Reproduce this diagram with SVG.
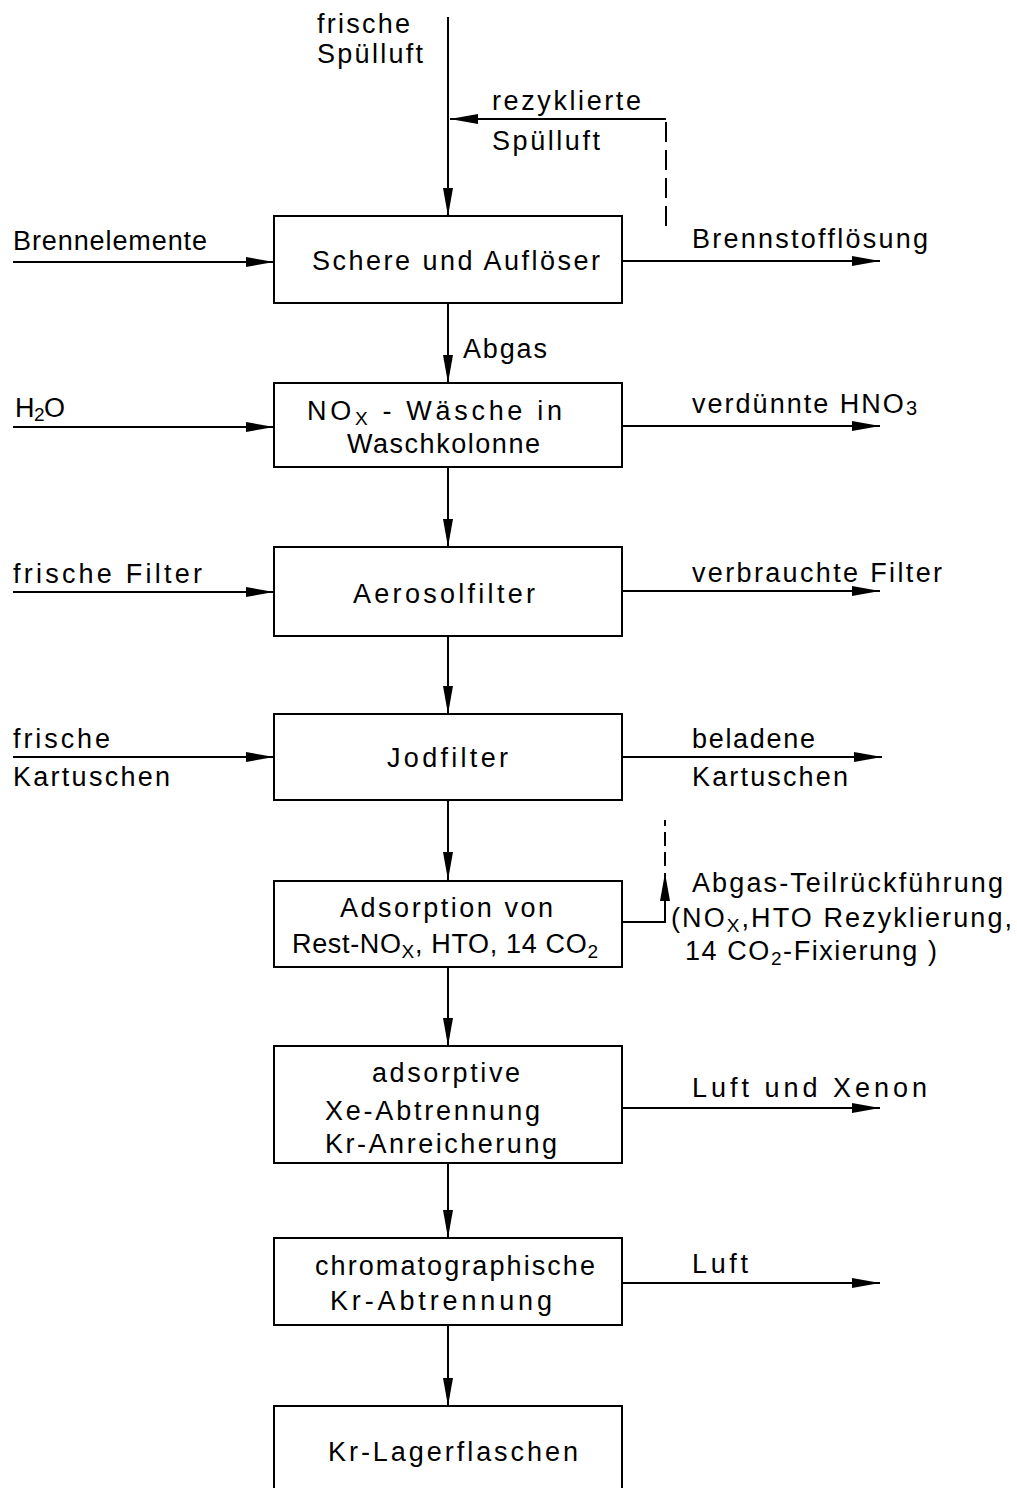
<svg xmlns="http://www.w3.org/2000/svg" width="1017" height="1488" viewBox="0 0 1017 1488">
<style>
  text { font-family: "Liberation Sans", Arial, sans-serif; font-size: 27px; fill: #000; }
  .box { fill: #fff; stroke: #000; stroke-width: 2; }
  .ln { fill: none; stroke: #000; stroke-width: 2; }
  .ar { marker-end: url(#arrow); }
  .dash { stroke-dasharray: 20 8; }
  .dash2 { stroke-dasharray: 14 6; }
</style>
<defs>
  <marker id="arrow" markerUnits="userSpaceOnUse" markerWidth="30" markerHeight="12" refX="28" refY="6" orient="auto">
    <path d="M0,1 L28,6 L0,11 z" fill="#000"/>
  </marker>
</defs>
<rect width="1017" height="1488" fill="#fff"/>

<g id="connectors">
  <path class="ln ar" d="M448,17 V216"/>
  <path class="ln dash" d="M666,226 V120"/>
  <path class="ln ar" d="M666,119 H450"/>
  <path class="ln ar" d="M448,303 V383"/>
  <path class="ln ar" d="M448,467 V547"/>
  <path class="ln ar" d="M448,636 V714"/>
  <path class="ln ar" d="M448,800 V880"/>
  <path class="ln ar" d="M448,967 V1046"/>
  <path class="ln ar" d="M448,1163 V1238"/>
  <path class="ln ar" d="M448,1325 V1406"/>
  <path class="ln ar" d="M13,262 H274"/>
  <path class="ln ar" d="M13,427 H274"/>
  <path class="ln ar" d="M13,592 H274"/>
  <path class="ln ar" d="M13,757 H274"/>
  <path class="ln ar" d="M622,261 H880"/>
  <path class="ln ar" d="M622,426 H880"/>
  <path class="ln ar" d="M622,591 H880"/>
  <path class="ln ar" d="M622,757 H882"/>
  <path class="ln ar" d="M622,922 H665 V873"/>
  <path class="ln dash2" d="M665,866 V820"/>
  <path class="ln ar" d="M622,1108 H880"/>
  <path class="ln ar" d="M622,1283 H880"/>
</g>

<g id="labels">
  <text x="317" y="33" textLength="93" lengthAdjust="spacing">frische</text>
  <text x="317" y="63" textLength="106" lengthAdjust="spacing">Spülluft</text>
  <text x="492" y="110" textLength="149" lengthAdjust="spacing">rezyklierte</text>
  <text x="492" y="150" textLength="108" lengthAdjust="spacing">Spülluft</text>
  <text x="13" y="250" textLength="194" lengthAdjust="spacing">Brennelemente</text>
  <text x="692" y="248" textLength="236" lengthAdjust="spacing">Brennstofflösung</text>
  <text x="463" y="358" textLength="84" lengthAdjust="spacing">Abgas</text>
  <text x="15" y="417" textLength="50" lengthAdjust="spacing">H<tspan font-size="19" dy="4">2</tspan><tspan dy="-4">O</tspan></text>
  <text x="692" y="413" textLength="225" lengthAdjust="spacing">verdünnte HNO<tspan font-size="20" dy="2">3</tspan></text>
  <text x="13" y="583" textLength="189" lengthAdjust="spacing">frische Filter</text>
  <text x="692" y="582" textLength="250" lengthAdjust="spacing">verbrauchte Filter</text>
  <text x="13" y="748" textLength="97" lengthAdjust="spacing">frische</text>
  <text x="13" y="786" textLength="157" lengthAdjust="spacing">Kartuschen</text>
  <text x="692" y="748" textLength="123" lengthAdjust="spacing">beladene</text>
  <text x="692" y="786" textLength="156" lengthAdjust="spacing">Kartuschen</text>
  <text x="692" y="892" textLength="311" lengthAdjust="spacing">Abgas-Teilrückführung</text>
  <text x="671" y="927" textLength="341" lengthAdjust="spacing">(NO<tspan font-size="19" dy="5">X</tspan><tspan dy="-5">,HTO Rezyklierung,</tspan></text>
  <text x="685" y="960" textLength="252" lengthAdjust="spacing">14 CO<tspan font-size="19" dy="5">2</tspan><tspan dy="-5">-Fixierung )</tspan></text>
  <text x="692" y="1097" textLength="235" lengthAdjust="spacing">Luft und Xenon</text>
  <text x="692" y="1273" textLength="56" lengthAdjust="spacing">Luft</text>
</g>

<g id="n1">
  <rect class="box" x="274" y="216" width="348" height="87"/>
  <text x="312" y="270" textLength="288" lengthAdjust="spacing">Schere und Auflöser</text>
</g>
<g id="n2">
  <rect class="box" x="274" y="383" width="348" height="84"/>
  <text x="307" y="420" textLength="255" lengthAdjust="spacing">NO<tspan font-size="19" dy="5">X</tspan><tspan dy="-5"> - Wäsche  in</tspan></text>
  <text x="347" y="453" textLength="193" lengthAdjust="spacing">Waschkolonne</text>
</g>
<g id="n3">
  <rect class="box" x="274" y="547" width="348" height="89"/>
  <text x="353" y="603" textLength="182" lengthAdjust="spacing">Aerosolfilter</text>
</g>
<g id="n4">
  <rect class="box" x="274" y="714" width="348" height="86"/>
  <text x="387" y="767" textLength="121" lengthAdjust="spacing">Jodfilter</text>
</g>
<g id="n5">
  <rect class="box" x="274" y="881" width="348" height="86"/>
  <text x="340" y="917" textLength="213" lengthAdjust="spacing">Adsorption von</text>
  <text x="292" y="953" textLength="306" lengthAdjust="spacing">Rest-NO<tspan font-size="19" dy="5">X</tspan><tspan dy="-5">, HTO, 14 CO</tspan><tspan font-size="19" dy="5">2</tspan></text>
</g>
<g id="n6">
  <rect class="box" x="274" y="1046" width="348" height="117"/>
  <text x="372" y="1082" textLength="148" lengthAdjust="spacing">adsorptive</text>
  <text x="325" y="1120" textLength="215" lengthAdjust="spacing">Xe-Abtrennung</text>
  <text x="325" y="1153" textLength="232" lengthAdjust="spacing">Kr-Anreicherung</text>
</g>
<g id="n7">
  <rect class="box" x="274" y="1238" width="348" height="87"/>
  <text x="315" y="1275" textLength="280" lengthAdjust="spacing">chromatographische</text>
  <text x="330" y="1310" textLength="222" lengthAdjust="spacing">Kr-Abtrennung</text>
</g>
<g id="n8">
  <path class="ln" d="M274,1490 V1406 H622 V1490"/>
  <text x="328" y="1461" textLength="250" lengthAdjust="spacing">Kr-Lagerflaschen</text>
</g>
</svg>
